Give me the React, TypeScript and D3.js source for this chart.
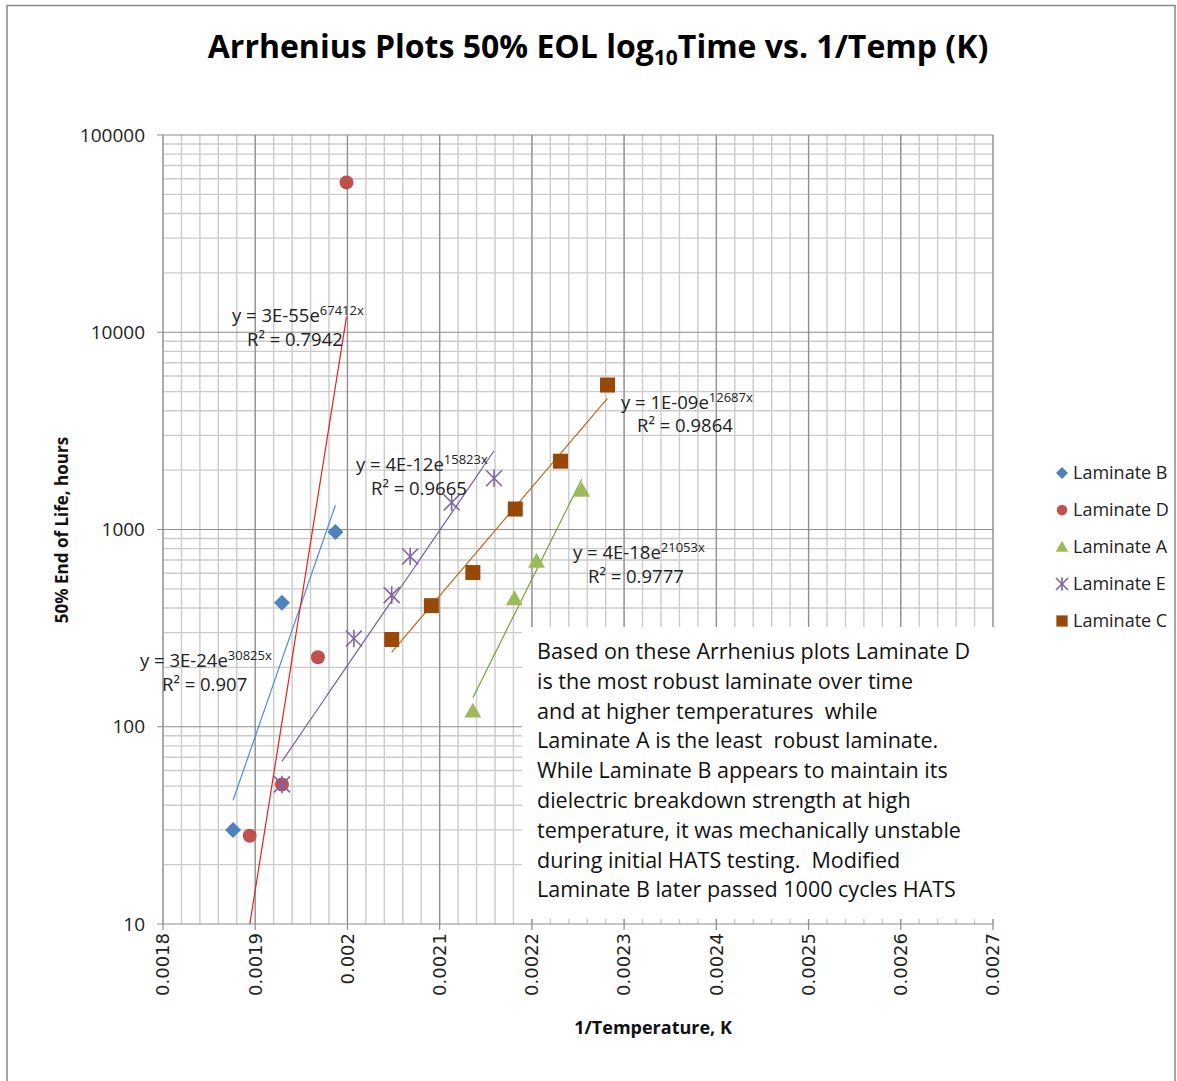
import React from "react";
import * as d3 from "d3";

const W = 1177;
const H = 1081;

// ---- data ----
const xTicks = [0.0018, 0.0019, 0.002, 0.0021, 0.0022, 0.0023, 0.0024, 0.0025, 0.0026, 0.0027];
const xTickLabels = ["0.0018", "0.0019", "0.002", "0.0021", "0.0022", "0.0023", "0.0024", "0.0025", "0.0026", "0.0027"];
const yTicks = [10, 100, 1000, 10000, 100000];
const yTickLabels = ["10", "100", "1000", "10000", "100000"];

const seriesNames = ["Laminate B", "Laminate D", "Laminate A", "Laminate E", "Laminate C"];

const bX = [0.001876, 0.001929, 0.001987];
const bY = [30, 425, 970];
const dX = [0.001894, 0.001929, 0.001968, 0.001999];
const dY = [28, 51, 225, 57500];
const aX = [0.002136, 0.002181, 0.002205, 0.002254];
const aY = [120, 445, 690, 1580];
const eX = [0.001929, 0.002007, 0.002048, 0.002068, 0.002113, 0.002159];
const eY = [51, 280, 465, 730, 1370, 1820];
const cX = [0.002048, 0.002091, 0.002136, 0.002182, 0.002231, 0.002282];
const cY = [277, 411, 605, 1270, 2220, 5400];

// equation labels (text as displayed)
const eqCoef = ["3E-24e", "3E-55e", "4E-18e", "4E-12e", "1E-09e"];
const eqExp = ["30825x", "67412x", "21053x", "15823x", "12687x"];
const eqR2 = ["0.907", "0.7942", "0.9777", "0.9665", "0.9864"];

const noteLines = [
  "Based on these Arrhenius plots Laminate D",
  "is the most robust laminate over time",
  "and at higher temperatures  while",
  "Laminate A is the least  robust laminate.",
  "While Laminate B appears to maintain its",
  "dielectric breakdown strength at high",
  "temperature, it was mechanically unstable",
  "during initial HATS testing.  Modified",
  "Laminate B later passed 1000 cycles HATS",
];

// ---- styles ----
const markerColors = ["#4F81BD", "#C0504D", "#9BBB59", "#8064A2", "#984807"];
const lineColors = ["#4A8FDF", "#E3231C", "#78A23E", "#7A5DA3", "#C5661E"];
const markerKinds = ["diamond", "circle", "triangle", "star", "square"];
// label anchor positions (pixels)
const eqPos = [
  [140, 667, 162, 691],
  [232, 322, 247, 346],
  [573, 559, 588, 583],
  [356, 471, 371, 495],
  [621, 409, 637, 432],
];

const FONT = "'Open Sans', 'Noto Sans', sans-serif";

function Marker({ kind, x, y, color, s = 1 }) {
  if (kind === "diamond") {
    const r = 8 * s;
    return <path d={`M${x},${y - r}L${x + r},${y}L${x},${y + r}L${x - r},${y}Z`} fill={color} />;
  }
  if (kind === "circle") return <circle cx={x} cy={y} r={7 * s} fill={color} />;
  if (kind === "triangle") {
    const r = 8.5 * s;
    return <path d={`M${x},${y - r}L${x + r},${y + r * 0.75}L${x - r},${y + r * 0.75}Z`} fill={color} />;
  }
  if (kind === "square") {
    const r = 7.5 * s;
    return <rect x={x - r} y={y - r} width={2 * r} height={2 * r} fill={color} />;
  }
  const r = 8 * s;
  return (
    <g stroke={color} strokeWidth={1.6}>
      <line x1={x - r} y1={y - r} x2={x + r} y2={y + r} />
      <line x1={x - r} y1={y + r} x2={x + r} y2={y - r} />
      <line x1={x} y1={y - r * 1.1} x2={x} y2={y + r * 1.1} />
    </g>
  );
}

function fit(xs, ys) {
  const ly = ys.map((v) => Math.log(v));
  const mx = d3.mean(xs);
  const my = d3.mean(ly);
  let sxy = 0, sxx = 0;
  xs.forEach((x, i) => {
    sxy += (x - mx) * (ly[i] - my);
    sxx += (x - mx) * (x - mx);
  });
  const b = sxy / sxx;
  const a = my - b * mx;
  return (x) => Math.exp(a + b * x);
}

export default function App() {
  const x = d3.scaleLinear().domain([0.0018, 0.0027]).range([163, 993]);
  const y = d3.scaleLog().domain([10, 100000]).range([924, 135]);

  const series = [
    [bX, bY], [dX, dY], [aX, aY], [eX, eY], [cX, cY],
  ];

  const minorX = d3.range(0, 46).map((i) => 0.0018 + i * 0.00002);
  const minorY = [];
  [10, 100, 1000, 10000].forEach((dd) => {
    for (let k = 2; k <= 9; k++) minorY.push(dd * k);
  });

  const lineGen = d3.line().x((d) => x(d[0])).y((d) => y(d[1]));

  return (
    <svg width={W} height={H} style={{ position: "absolute", left: 0, top: 0, background: "#fff" }} fontFamily={FONT}>
      <rect x={0} y={0} width={W} height={H} fill="#fff" />
      <rect x={7} y={5.5} width={1168} height={1090} fill="none" stroke="#888" strokeWidth={1.5} />
      <defs>
        <clipPath id="plot">
          <rect x={163} y={135} width={830} height={789} />
        </clipPath>
      </defs>

      {/* title */}
      <text x={598} y={58} textAnchor="middle" fontSize={32} fontWeight="bold" fill="#000">
        Arrhenius Plots 50% EOL log
        <tspan fontSize={21} dy={7}>10</tspan>
        <tspan dy={-7}>Time vs. 1/Temp (K)</tspan>
      </text>

      {/* grid */}
      <g>
        {minorX.map((v, i) => (
          <line key={"mx" + i} x1={x(v)} x2={x(v)} y1={135} y2={924} stroke="#cbcbcb" strokeWidth={1.4} />
        ))}
        {minorY.map((v, i) => (
          <line key={"my" + i} x1={163} x2={993} y1={y(v)} y2={y(v)} stroke="#cbcbcb" strokeWidth={1.4} />
        ))}
        {xTicks.map((v, i) => (
          <line key={"Mx" + i} x1={x(v)} x2={x(v)} y1={135} y2={930} stroke="#8c8c8c" strokeWidth={1.2} />
        ))}
        {yTicks.map((v, i) => (
          <line key={"My" + i} x1={157} x2={993} y1={y(v)} y2={y(v)} stroke="#8c8c8c" strokeWidth={1.2} />
        ))}
      </g>

      {/* trendlines */}
      <g clipPath="url(#plot)">
        {series.map(([xs, ys], i) => {
          const f = fit(xs, ys);
          const x0 = d3.min(xs);
          const x1 = d3.max(xs);
          const pts = d3.range(0, 41).map((k) => {
            const xv = x0 + ((x1 - x0) * k) / 40;
            return [xv, f(xv)];
          });
          return <path key={"t" + i} d={lineGen(pts)} fill="none" stroke={lineColors[i]} strokeWidth={1.2} />;
        })}
      </g>

      {/* markers */}
      {series.map(([xs, ys], i) => (
        <g key={"s" + i}>
          {xs.map((xv, j) => (
            <Marker key={j} kind={markerKinds[i]} x={x(xv)} y={y(ys[j])} color={markerColors[i]} />
          ))}
        </g>
      ))}

      {/* equation labels */}
      {eqPos.map((p, i) => (
        <g key={"eq" + i} fill="#222" fontSize={18.5}>
          <text x={p[0]} y={p[1]}>
            {"y = " + eqCoef[i]}
            <tspan fontSize={13} dy={-7}>{eqExp[i]}</tspan>
          </text>
          <text x={p[2]} y={p[3]}>{"R² = " + eqR2[i]}</text>
        </g>
      ))}

      {/* note text box */}
      <rect x={522} y={627} width={480} height={292} fill="#fff" />
      <g fontSize={21.5} fill="#111">
        {noteLines.map((t, i) => (
          <text key={"n" + i} x={537} y={659 + i * 29.8} style={{ whiteSpace: "pre" }}>{t}</text>
        ))}
      </g>

      {/* axis labels */}
      {yTicks.map((v, i) => (
        <text key={"yl" + i} x={145} y={y(v)} dy="0.35em" textAnchor="end" fontSize={19} fill="#222">
          {yTickLabels[i]}
        </text>
      ))}
      {xTicks.map((v, i) => (
        <text
          key={"xl" + i}
          transform={`translate(${x(v)},933) rotate(-90)`}
          textAnchor="end"
          dy="0.35em"
          fontSize={18}
          fill="#222"
          fontFamily="'DejaVu Sans', sans-serif"
        >
          {xTickLabels[i]}
        </text>
      ))}
      <text transform="translate(68,530) rotate(-90)" textAnchor="middle" fontSize={17} fontWeight="bold" fill="#111">
        50% End of Life, hours
      </text>
      <text x={653} y={1034} textAnchor="middle" fontSize={18} fontWeight="bold" fill="#111">
        1/Temperature, K
      </text>

      {/* legend */}
      {seriesNames.map((n, i) => (
        <g key={"lg" + i}>
          <Marker kind={markerKinds[i]} x={1062} y={473 + i * 37} color={markerColors[i]} s={0.75} />
          <text x={1073} y={473 + i * 37} dy="0.35em" fontSize={18} fill="#222">{n}</text>
        </g>
      ))}
    </svg>
  );
}
